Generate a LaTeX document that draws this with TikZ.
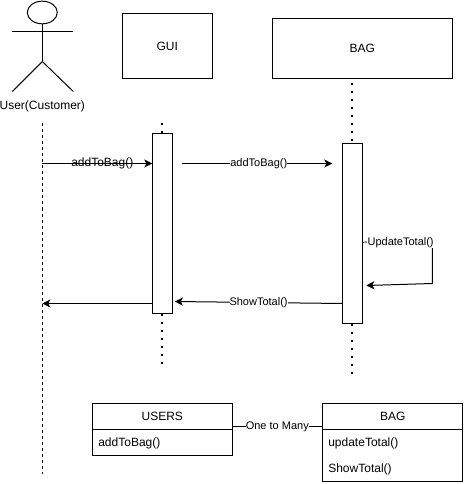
\documentclass[tikz,border=0pt]{standalone}
\usepackage{fontspec}
\setmainfont{Liberation Sans}
\usetikzlibrary{shapes.geometric,arrows.meta}

\begin{document}
\begin{tikzpicture}[x=0.75pt, y=-0.75pt, auto, >={Stealth[length=6pt,width=6pt,inset=1.5pt]}, line width=0.75pt, font=\fontsize{9pt}{11pt}\selectfont,
                    inner sep=0pt, outer sep=0pt,
                    main box/.style={rectangle,draw,fill=white},
                    active box/.style={main box,minimum width=15pt,minimum height=135pt},
                    head box/.style={main box,minimum height=19.5pt},
                    row text/.style={anchor=west},
                    msg/.style={->},
                    dot line/.style={line width=1.5pt,dash pattern=on 1.5pt off 4.5pt},
                    tag/.style={fill=white,inner sep=0pt,font=\fontsize{8.25pt}{10pt}\selectfont}]
  \useasboundingbox (-0.3,-0.5) rectangle (462.7,483.5);

  % actor
  \node[ellipse,draw,minimum width=22.5pt,minimum height=17pt] (head) at (42,12) {};
  \coordinate (armL) at (12,31);
  \coordinate (armR) at (73,31);
  \coordinate (hip) at (42,61);
  \coordinate (legL) at (12,91);
  \coordinate (legR) at (73,91);
  \node (user) at (42,105.5) {User(Customer)};

  \node[main box,minimum width=67.5pt,minimum height=48.75pt] (gui) at (167,45.5) {GUI};
  \node[main box,minimum width=135pt,minimum height=45pt] (bag) at (362,48) {BAG};
  \node[active box] (guiAct) at (162,223) {};
  \node[active box] (bagAct) at (352,233) {};

  % lifelines ends
  \coordinate (userTop) at (42,123);
  \coordinate (userEnd) at (42,473);
  \coordinate (guiTop) at (162,123);
  \coordinate (guiEnd) at (162,364);
  \coordinate (bagTop) at (352,83);
  \coordinate (bagEnd) at (352,374);

  \draw (head) -- (hip);
  \draw (armL) -- (armR);
  \draw (hip) -- (legL);
  \draw (hip) -- (legR);
  \draw[dash pattern=on 2.25pt off 2.25pt] (userTop) -- (userEnd);
  \draw[dot line] (guiTop) -- (guiAct.north);
  \draw[dot line] (guiAct.south) -- (guiEnd);
  \draw[dot line] (bagTop) -- (bagAct.north);
  \draw[dot line] (bagAct.south) -- (bagEnd);

  % message ends
  \coordinate (addA) at (42,163);
  \coordinate (addB) at (152,163);
  \coordinate (addC) at (182,163);
  \coordinate (addD) at (332,163);
  \coordinate (updA) at (362,242);
  \coordinate (updB) at (432,242);
  \coordinate (updC) at (432,283);
  \coordinate (updD) at (366,285);
  \coordinate (showA) at (342,303);
  \coordinate (showB) at (174.5,301);
  \coordinate (backA) at (152,303);
  \coordinate (backB) at (42,303);

  \draw[msg] (addA) -- (addB);
  \node (addLabel) at (102,162.5) {addToBag()};
  \path[msg]
    (addC) edge node [tag,pos=0.51,swap,anchor=center] (addLabelB) {addToBag()} (addD)
    (showA) edge node [tag,midway,swap,anchor=center] (showLabel) {ShowTotal()} (showB)
    (backA) edge (backB);
  \draw (updA) -- (updB);
  \draw[msg] (updB) -- (updC) -- (updD);
  \node[tag] (updLabel) at (398.5,242) {-UpdateTotal()};

  % classes
  \node[head box,minimum width=105pt] (users) at (162,416) {USERS};
  \node[main box,minimum width=105pt,minimum height=19.5pt] (usersBody) at (162,442) {};
  \node[row text] (usersAdd) at (98,443) {addToBag()};

  \node[head box,minimum width=105pt] (bagHead) at (392.5,416) {BAG};
  \node[main box,minimum width=105pt,minimum height=39pt] (bagBody) at (392.5,455) {};
  \node[row text] (bagUpdate) at (328,443) {updateTotal()};
  \node[row text] (bagShow) at (328,469) {ShowTotal()};

  \coordinate (oneA) at (232,426);
  \coordinate (oneB) at (322,426);
  \path (oneA) edge node [tag,midway,swap,anchor=center] (oneLabel) {One to Many} (oneB);

\end{tikzpicture}
\end{document}
